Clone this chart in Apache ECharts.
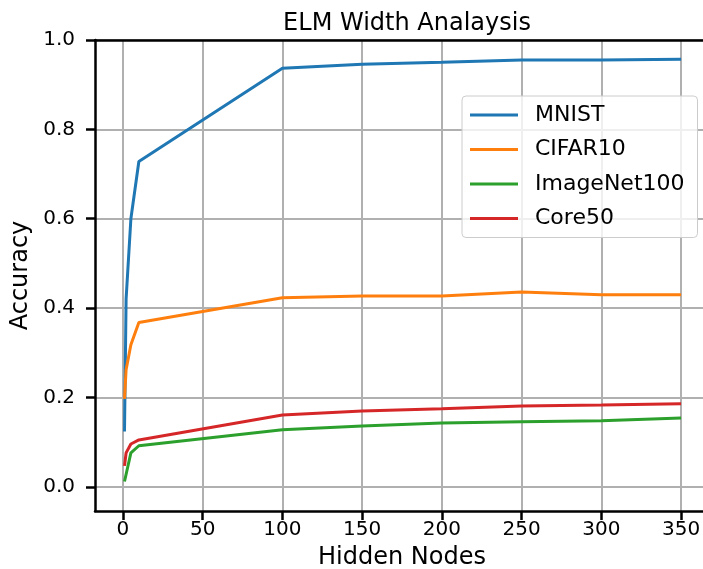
<!DOCTYPE html>
<html><head><meta charset="utf-8">
<script src="https://cdn.jsdelivr.net/npm/echarts@6/dist/echarts.min.js"></script>
<style>html,body{margin:0;padding:0;background:#fff}#c{width:703px;height:569px}</style>
</head><body><div id="c"></div>
<script>
const hiddenNodes = [1, 2, 5, 10, 100, 150, 200, 250, 300, 350];
const mnist = [0.124, 0.42, 0.60, 0.728, 0.937, 0.946, 0.950, 0.955, 0.955, 0.957];
const cifar10 = [0.197, 0.262, 0.318, 0.368, 0.423, 0.427, 0.427, 0.436, 0.430, 0.430];
const imagenet100 = [0.012, 0.014, 0.076, 0.092, 0.128, 0.136, 0.143, 0.146, 0.148, 0.154];
const core50 = [0.047, 0.076, 0.096, 0.105, 0.161, 0.170, 0.175, 0.181, 0.183, 0.186];
const xTicks = [0, 50, 100, 150, 200, 250, 300, 350];
const yTicks = [0.0, 0.2, 0.4, 0.6, 0.8, 1.0];

const FONT = 'DejaVu Sans';
const names = ['MNIST', 'CIFAR10', 'ImageNet100', 'Core50'];
const colors = ['#1f77b4', '#ff7f0e', '#2ca02c', '#d62728'];
const values = [mnist, cifar10, imagenet100, core50];

const chart = echarts.init(document.getElementById('c'));
chart.setOption({
  animation: false,
  textStyle: { fontFamily: FONT },
  title: {
    text: 'ELM Width Analaysis', left: 402, top: 7, textAlign: 'center',
    textStyle: { fontFamily: FONT, fontSize: 24, fontWeight: 'normal', color: '#000' }
  },
  grid: { left: 95, top: 40, width: 614, height: 471, containLabel: false, outerBoundsMode: 'none' },
  legend: {
    orient: 'vertical', left: 462, top: 96,
    data: names,
    icon: 'rect', itemWidth: 48, itemHeight: 3, itemGap: 10.5,
    padding: [7, 13, 7, 8],
    backgroundColor: 'rgba(255,255,255,0.8)', borderColor: '#cccccc', borderWidth: 1, borderRadius: 4,
    textStyle: { fontFamily: FONT, fontSize: 22, color: '#000', lineHeight: 24, padding: [0, 0, 0, 12] }
  },
  xAxis: [{
    type: 'value', min: -17.5, max: 367.5,
    name: 'Hidden Nodes', nameLocation: 'middle', nameGap: 35,
    nameTextStyle: { fontFamily: FONT, fontSize: 24, color: '#000' },
    axisLine: { show: true, onZero: false, lineStyle: { color: '#000', width: 2.5 } },
    axisTick: { show: true, inside: false, length: 9, lineStyle: { color: '#000', width: 2.5 }, customValues: xTicks },
    axisLabel: { fontFamily: FONT, fontSize: 20, color: '#000', margin: 9, customValues: xTicks },
    splitLine: { show: true, lineStyle: { color: '#b0b0b0', width: 2 } }
  }, {
    type: 'value', position: 'top', min: -17.5, max: 367.5,
    axisLine: { show: true, onZero: false, lineStyle: { color: '#000', width: 2.5 } },
    axisTick: { show: false }, axisLabel: { show: false }, splitLine: { show: false }
  }],
  yAxis: {
    type: 'value', min: -0.054, max: 1.0,
    name: 'Accuracy', nameLocation: 'middle', nameGap: 60, nameRotate: 90,
    nameTextStyle: { fontFamily: FONT, fontSize: 24, color: '#000' },
    axisLine: { show: true, onZero: false, lineStyle: { color: '#000', width: 2.5 } },
    axisTick: { show: true, inside: false, length: 9, lineStyle: { color: '#000', width: 2.5 }, customValues: yTicks },
    axisLabel: { fontFamily: FONT, fontSize: 20, color: '#000', margin: 20, customValues: yTicks,
      formatter: v => v.toFixed(1) },
    splitLine: { show: true, lineStyle: { color: '#b0b0b0', width: 2 } }
  },
  series: names.map((n, i) => ({
    name: n, type: 'line', xAxisIndex: 0,
    data: hiddenNodes.map((x, j) => [x, values[i][j]]),
    showSymbol: false, symbol: 'none',
    lineStyle: { color: colors[i], width: 3 }, itemStyle: { color: colors[i] },
    z: 3
  }))
});
</script></body></html>
